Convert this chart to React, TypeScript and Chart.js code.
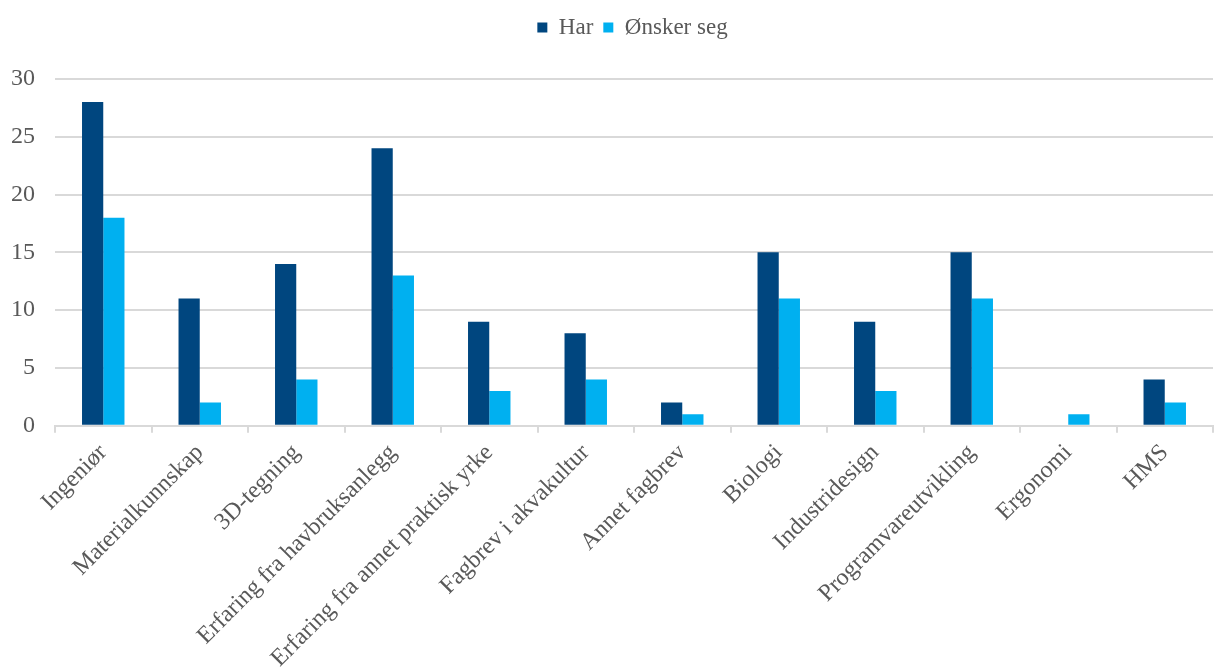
import React, { useEffect, useRef } from "react";
import { Chart, registerables } from "chart.js";

Chart.register(...registerables);

const categories = [
  "Ingeniør",
  "Materialkunnskap",
  "3D-tegning",
  "Erfaring fra havbruksanlegg",
  "Erfaring fra annet praktisk yrke",
  "Fagbrev i akvakultur",
  "Annet fagbrev",
  "Biologi",
  "Industridesign",
  "Programvareutvikling",
  "Ergonomi",
  "HMS",
];

const harValues = [28, 11, 14, 24, 9, 8, 2, 15, 9, 15, 0, 4];
const onskerValues = [18, 2, 4, 13, 3, 4, 1, 11, 3, 11, 1, 2];

const yTicks = [0, 5, 10, 15, 20, 25, 30];

const FONT = "'Liberation Serif', 'Times New Roman', serif";
const TEXT = "#595959";
const GRID = "#d9d9d9";

Chart.defaults.font.family = FONT;
Chart.defaults.color = TEXT;

// Extra space under the legend, and the legend centred over the plot area.
const legendPlacement = {
  id: "legendPlacement",
  beforeInit(chart: any) {
    const legend = chart.legend;
    if (!legend) return;
    const fit = legend.fit;
    legend.fit = function () {
      fit.call(this);
      this.height += 30;
    };
  },
  afterLayout(chart: any) {
    const legend = chart.legend;
    if (!legend) return;
    const shift = (chart.chartArea.left + chart.chartArea.right) / 2 - chart.width / 2;
    legend.left += shift;
    legend.right += shift;
  },
};

export default function App() {
  const canvasRef = useRef<HTMLCanvasElement | null>(null);

  useEffect(() => {
    document.body.style.margin = "0";
    const canvas = canvasRef.current;
    if (!canvas) return;
    const chart = new Chart(canvas, {
      type: "bar",
      data: {
        labels: categories,
        datasets: [
          {
            label: "Har",
            data: harValues,
            backgroundColor: "#00467f",
            categoryPercentage: 0.44,
            barPercentage: 1,
          },
          {
            label: "Ønsker seg",
            data: onskerValues,
            backgroundColor: "#00b0f0",
            categoryPercentage: 0.44,
            barPercentage: 1,
          },
        ],
      },
      options: {
        animation: false,
        responsive: false,
        maintainAspectRatio: false,
        layout: { padding: { top: 6, right: 3, left: 0, bottom: -10 } },
        plugins: {
          legend: {
            position: "top",
            labels: {
              font: { family: FONT, size: 23 },
              color: TEXT,
              boxWidth: 10,
              boxHeight: 10,
              padding: 10,
            },
          },
          tooltip: { enabled: false },
        },
        scales: {
          x: {
            grid: {
              offset: true,
              drawOnChartArea: false,
              drawTicks: true,
              tickLength: 7,
              color: GRID,
              lineWidth: 2,
            },
            border: { color: GRID, width: 2 },
            ticks: {
              font: { family: FONT, size: 24 },
              color: TEXT,
              maxRotation: 45,
              minRotation: 45,
              autoSkip: false,
              padding: 6,
            },
          },
          y: {
            min: 0,
            max: 30,
            afterBuildTicks: (axis: any) => {
              axis.ticks = yTicks.map((v) => ({ value: v }));
            },
            afterFit: (axis: any) => {
              axis.width = 55;
            },
            grid: { color: GRID, lineWidth: 2, drawTicks: false },
            border: { display: false },
            ticks: {
              font: { family: FONT, size: 24 },
              color: TEXT,
              padding: 20,
            },
          },
        },
      },
      plugins: [legendPlacement],
    });
    return () => chart.destroy();
  }, []);

  return (
    <div style={{ width: 1216, height: 669, background: "#fff" }}>
      <canvas ref={canvasRef} width={1216} height={669} />
    </div>
  );
}
